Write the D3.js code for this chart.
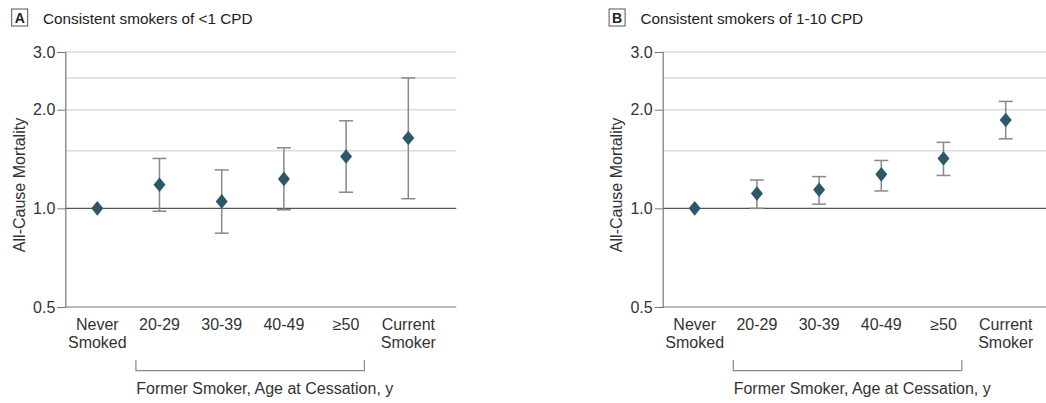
<!DOCTYPE html>
<html>
<head>
<meta charset="utf-8">
<script src="https://cdn.jsdelivr.net/npm/d3@7"></script>
<style>
  body { margin: 0; background: #fff; }
  svg { display: block; font-family: "Liberation Sans Narrow", "Liberation Sans", sans-serif; }
</style>
</head>
<body>
<svg id="chart" width="1046" height="403"></svg>
<script>
// categories along x, with the label lines used below the axis
const categories = ['Never Smoked', '20-29', '30-39', '40-49', '≥50', 'Current Smoker'];
const categoryLines = [['Never', 'Smoked'], ['20-29'], ['30-39'], ['40-49'], ['≥50'], ['Current', 'Smoker']];

// panel A: <1 CPD
const estimateA = [1.00, 1.18, 1.05, 1.23, 1.44, 1.64];
const lowerA = [null, 0.98, 0.84, 0.99, 1.12, 1.07];
const upperA = [null, 1.42, 1.31, 1.53, 1.85, 2.50];

// panel B: 1-10 CPD
const estimateB = [1.00, 1.11, 1.14, 1.27, 1.42, 1.86];
const lowerB = [null, 1.00, 1.03, 1.13, 1.26, 1.63];
const upperB = [null, 1.22, 1.25, 1.40, 1.59, 2.12];

const yTickValues = [0.5, 1.0, 2.0, 3.0];
const gridValues = [1.5, 2.0, 2.5, 3.0];

const svg = d3.select('#chart');

const plotLeft = 65.3;
const plotTop = 52;
const plotWidth = 391;
const plotHeight = 255;
const markColor = '#2c5867';

const x = d3.scalePoint()
    .domain(categories)
    .range([32, 343]);

const y = d3.scaleLog()
    .domain([0.5, 3.0])
    .range([plotHeight, 0]);

function drawPanel(offsetX, letter, title, estimate, lower, upper) {

    const panel = svg.append('g').attr('transform', `translate(${offsetX},0)`);

    // panel letter box and title
    panel.append('rect')
        .attr('x', 11.7).attr('y', 9)
        .attr('width', 16).attr('height', 17)
        .attr('fill', 'none')
        .attr('stroke', '#555')
        .attr('stroke-width', 1);

    panel.append('text')
        .attr('x', 19.7).attr('y', 23)
        .attr('text-anchor', 'middle')
        .attr('font-weight', 'bold')
        .attr('font-size', 14)
        .attr('fill', '#222')
        .text(letter);

    panel.append('text')
        .attr('x', 43).attr('y', 24)
        .attr('font-size', 15.3)
        .attr('fill', '#222')
        .text(title);

    const plot = panel.append('g').attr('transform', `translate(${plotLeft},${plotTop})`);

    // grid lines
    plot.append('g')
        .selectAll('line')
        .data(gridValues)
        .join('line')
        .attr('x1', 0).attr('x2', plotWidth)
        .attr('y1', (d) => y(d)).attr('y2', (d) => y(d))
        .attr('stroke', '#dcdcdc')
        .attr('stroke-width', 1.5);

    // reference line at 1.0
    plot.append('line')
        .attr('x1', 0).attr('x2', plotWidth)
        .attr('y1', y(1)).attr('y2', y(1))
        .attr('stroke', '#555')
        .attr('stroke-width', 1.2);

    // y axis
    const yAxis = d3.axisLeft(y)
        .tickValues(yTickValues)
        .tickFormat(d3.format('.1f'))
        .tickSize(8)
        .tickPadding(2);

    const yAxisG = plot.append('g').call(yAxis);
    yAxisG.select('.domain').attr('stroke', '#777').attr('stroke-width', 1.2);
    yAxisG.selectAll('.tick line').attr('stroke', '#777');
    yAxisG.selectAll('.tick text')
        .attr('font-size', 16)
        .attr('fill', '#333')
        .attr('font-family', '"Liberation Sans Narrow", "Liberation Sans", sans-serif');

    // x axis line
    plot.append('line')
        .attr('x1', 0).attr('x2', plotWidth)
        .attr('y1', plotHeight).attr('y2', plotHeight)
        .attr('stroke', '#777')
        .attr('stroke-width', 1.2);

    // y axis title
    panel.append('text')
        .attr('transform', `translate(25,${plotTop + 133}) rotate(-90)`)
        .attr('text-anchor', 'middle')
        .attr('font-size', 16)
        .attr('fill', '#333')
        .text('All-Cause Mortality');

    // x category labels
    const labels = plot.append('g')
        .selectAll('text')
        .data(categories)
        .join('text')
        .attr('text-anchor', 'middle')
        .attr('font-size', 16)
        .attr('fill', '#333')
        .attr('transform', (d) => `translate(${x(d)},${plotHeight + 23})`);

    labels.selectAll('tspan')
        .data((d, i) => categoryLines[i])
        .join('tspan')
        .attr('x', 0)
        .attr('dy', (d, i) => i === 0 ? 0 : 18)
        .text((d) => d);

    // bracket for former smokers
    const bx0 = x('20-29') - 23.6;
    const bx1 = x('≥50') + 18.3;
    plot.append('path')
        .attr('d', `M${bx0},${plotHeight + 53}V${plotHeight + 63.7}H${bx1}V${plotHeight + 53}`)
        .attr('fill', 'none')
        .attr('stroke', '#888')
        .attr('stroke-width', 1.2);

    plot.append('text')
        .attr('x', plotWidth / 2 + 4)
        .attr('y', plotHeight + 87)
        .attr('text-anchor', 'middle')
        .attr('font-size', 16)
        .attr('fill', '#333')
        .text('Former Smoker, Age at Cessation, y');

    // error bars
    const rows = categories.map((c, i) => ({ c: c, est: estimate[i], lo: lower[i], hi: upper[i] }));
    const bars = plot.append('g')
        .selectAll('g')
        .data(rows.filter((d) => d.lo !== null))
        .join('g')
        .attr('stroke', '#888')
        .attr('stroke-width', 1.5);

    bars.append('line')
        .attr('x1', (d) => x(d.c)).attr('x2', (d) => x(d.c))
        .attr('y1', (d) => y(d.lo)).attr('y2', (d) => y(d.hi));
    bars.append('line')
        .attr('x1', (d) => x(d.c) - 7).attr('x2', (d) => x(d.c) + 7)
        .attr('y1', (d) => y(d.hi)).attr('y2', (d) => y(d.hi));
    bars.append('line')
        .attr('x1', (d) => x(d.c) - 7).attr('x2', (d) => x(d.c) + 7)
        .attr('y1', (d) => y(d.lo)).attr('y2', (d) => y(d.lo));

    // diamonds
    plot.append('g')
        .selectAll('path')
        .data(rows)
        .join('path')
        .attr('d', d3.symbol(d3.symbolSquare, 72))
        .attr('transform', (d) => `translate(${x(d.c)},${y(d.est)}) scale(1,1.22) rotate(45)`)
        .attr('fill', markColor);

}

drawPanel(0, 'A', 'Consistent smokers of <1 CPD', estimateA, lowerA, upperA);
drawPanel(597.4, 'B', 'Consistent smokers of 1-10 CPD', estimateB, lowerB, upperB);
</script>
</body>
</html>
